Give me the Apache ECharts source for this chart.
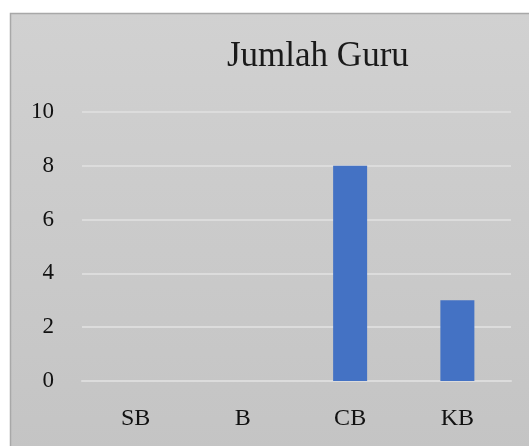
<!DOCTYPE html>
<html><head><meta charset="utf-8">
<script src="https://cdn.jsdelivr.net/npm/echarts@6/dist/echarts.min.js"></script>
<style>html,body{margin:0;padding:0;background:#fff;}#c{width:529px;height:446px;}</style>
</head><body><div id="c"></div>
<script>
var title = 'Jumlah Guru';
var categories = ['SB', 'B', 'CB', 'KB'];
var values = [0, 0, 8, 3];
var yTicks = [0, 2, 4, 6, 8, 10];

var chart = echarts.init(document.getElementById('c'), null, {renderer: 'canvas'});
chart.setOption({
  animation: false,
  backgroundColor: '#ffffff',
  graphic: [{
    type: 'rect', z: -10, silent: true,
    shape: {x: 10.5, y: 13.5, width: 530, height: 440},
    style: {
      fill: new echarts.graphic.LinearGradient(0, 0, 0, 1, [
        {offset: 0, color: '#d1d1d1'}, {offset: 1, color: '#c4c4c4'}
      ]),
      stroke: '#a8a8a8', lineWidth: 1.5
    }
  }],
  title: {
    text: title, left: 222, top: 34,
    textStyle: {fontFamily: 'Liberation Serif', fontSize: 35, fontWeight: 'normal', color: '#1a1a1a'}
  },
  grid: {left: 82, right: 18, top: 112, bottom: 65, containLabel: false},
  xAxis: {
    type: 'category', data: categories,
    axisLine: {show: true, lineStyle: {color: '#dcdcdc', width: 2}},
    axisTick: {show: false},
    axisLabel: {fontFamily: 'Liberation Serif', fontSize: 24, color: '#111', margin: 26}
  },
  yAxis: {
    type: 'value', min: 0, max: 10, interval: 2,
    axisLine: {show: false}, axisTick: {show: false},
    splitLine: {lineStyle: {color: '#dcdcdc', width: 2}},
    axisLabel: {fontFamily: 'Liberation Serif', fontSize: 23, color: '#111', margin: 28,
      formatter: function (v) { return yTicks.indexOf(v) >= 0 ? String(v) : ''; }}
  },
  series: [{
    type: 'bar', data: values, barWidth: 34,
    itemStyle: {color: '#4472c4'}
  }]
});
</script></body></html>
